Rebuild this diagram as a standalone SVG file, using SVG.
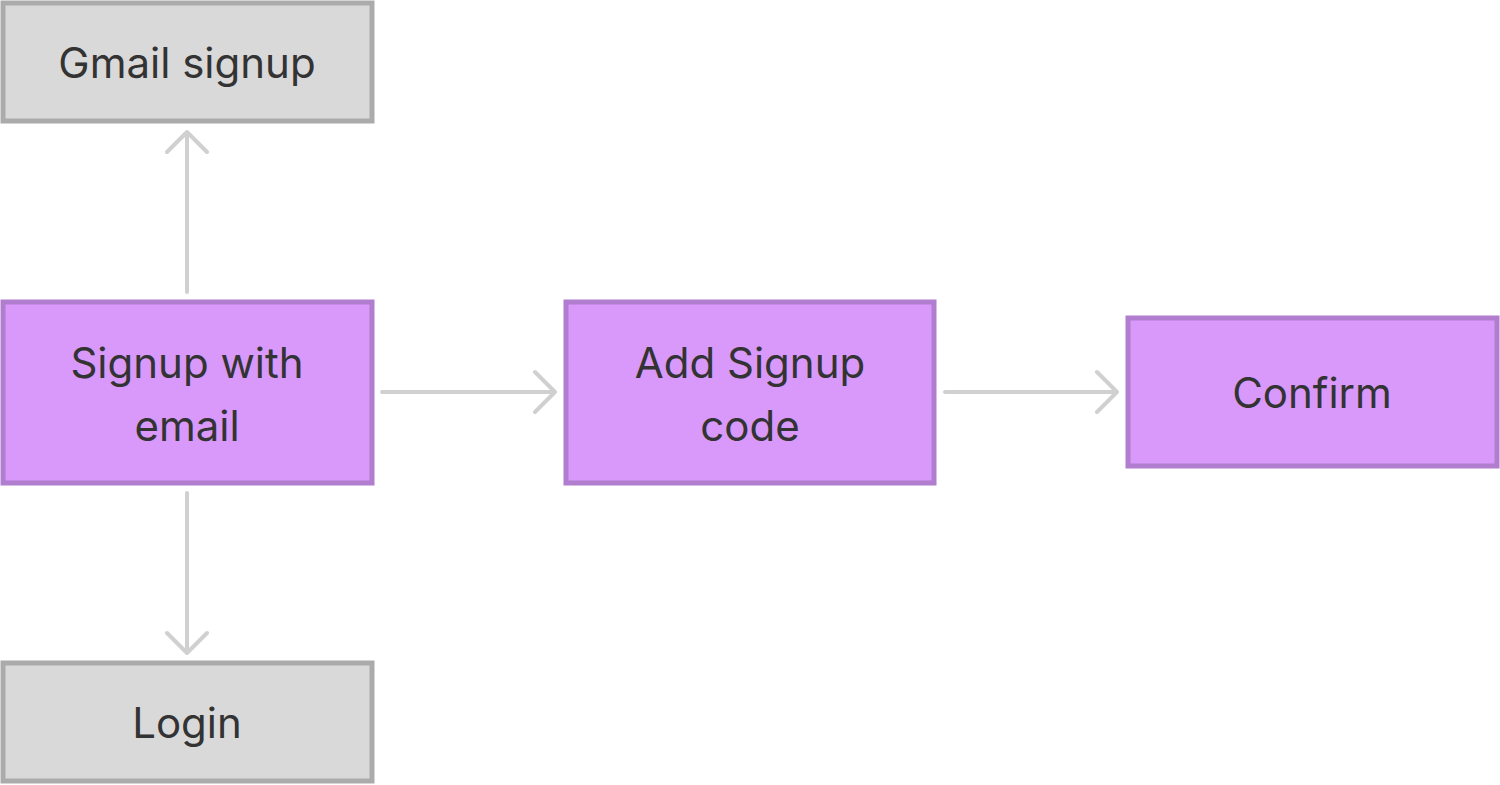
<svg xmlns="http://www.w3.org/2000/svg" width="1500" height="785" viewBox="0 0 1500 785">
<style>
.g{fill:#d9d9d9;stroke:#ababab;stroke-width:5}
.p{fill:#d899fb;stroke:#b07dcf;stroke-width:5}
text{font-family:Inter,"Liberation Sans",sans-serif;font-size:42px;fill:#333;text-anchor:middle}
.c{stroke:#d0d0d0;stroke-width:4;fill:none;stroke-linecap:round;stroke-linejoin:round}
</style>
<rect width="1500" height="785" fill="#fff"/>
<g id="gmail"><rect class="g" x="3" y="3" width="369" height="118"/><text x="187" y="78">Gmail signup</text></g>
<g id="email"><rect class="p" x="3" y="302" width="369" height="181"/><text x="187" y="378">Signup with</text><text x="187" y="441">email</text></g>
<g id="code"><rect class="p" x="566" y="302" width="368" height="181"/><text x="750" y="378">Add Signup</text><text x="750" y="441">code</text></g>
<g id="confirm"><rect class="p" x="1128" y="318" width="369" height="148"/><text x="1312" y="408">Confirm</text></g>
<g id="login"><rect class="g" x="3" y="663" width="369" height="118"/><text x="187" y="738">Login</text></g>
<g id="connectors" class="c">
<path d="M187 292V132M167 152L187 132L207 152"/>
<path d="M187 493V653M167 633L187 653L207 633"/>
<path d="M382 392H555M535 372L555 392L535 412"/>
<path d="M945 392H1117M1097 372L1117 392L1097 412"/>
</g>
</svg>
